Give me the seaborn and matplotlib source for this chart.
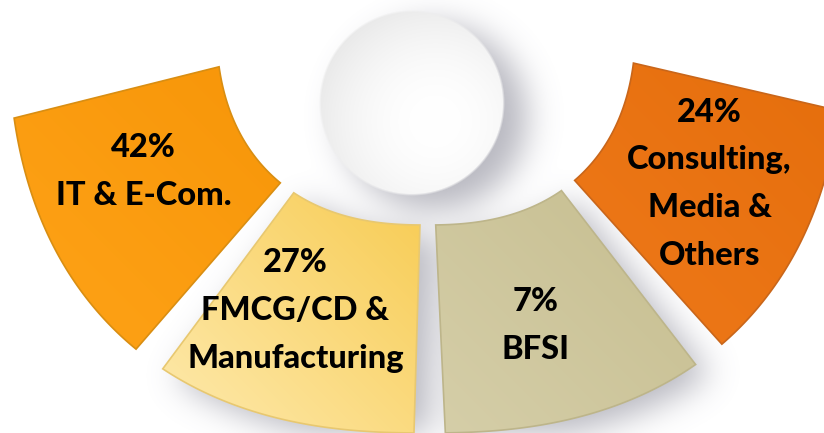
import numpy as np
import matplotlib
matplotlib.use("Agg")
import matplotlib.pyplot as plt
from matplotlib.patches import Polygon
from matplotlib.colors import LinearSegmentedColormap
import seaborn as sns

# segment data, left to right
labels = ["IT & E-Com.", "FMCG/CD &\nManufacturing", "BFSI", "Consulting,\nMedia &\nOthers"]
shares = [42, 27, 7, 24]
dark_colors = ["#F8970A", "#F8CE5A", "#CAC296", "#E66F0D"]
light_colors = ["#FDA014", "#FDE6A2", "#D5CEA8", "#EC7616"]
edge_colors = ["#D98E12", "#E8C870", "#BDB58A", "#C9661A"]

W, H = 824, 433
cx, cy = 426, 15          # ring centre, pixel coords (y down)
R_in, R_out = 210, 418    # radii along the axes (squircle-ish ring)
n_sq = 2.4
step, span, a0 = 39.3, 35.0, 89.5
r_lab = 323
lab_nudge = [2.6, 4.7, 0.7, 0.2]   # degrees
lab_dr = [0, 0, 6, 7]              # pixels

sns.set_theme(style="white")
plt.rcParams["font.family"] = ["Lato", "DejaVu Sans"]

fig = plt.figure(figsize=(W / 100, H / 100), dpi=100)
ax = fig.add_axes([0, 0, 1, 1])
ax.set_xlim(0, W)
ax.set_ylim(H, 0)
ax.axis("off")

yy, xx = np.mgrid[0:H, 0:W] + 0.5


def shape(theta):
    c, s = np.abs(np.cos(theta)), np.abs(np.sin(theta))
    return 1.0 / (c ** n_sq + s ** n_sq) ** (1.0 / n_sq)


def sector_pts(t1, t2, dx=0, dy=0):
    t = np.radians(np.linspace(t1, t2, 80))
    ro, ri = R_out * shape(t), R_in * shape(t)
    outer = np.column_stack([cx + dx + ro * np.cos(t), cy + dy + ro * np.sin(t)])
    inner = np.column_stack([cx + dx + ri * np.cos(t), cy + dy + ri * np.sin(t)])[::-1]
    return np.vstack([outer, inner])


def sector_mask(dx, dy, t1, t2):
    px, py = xx - cx - dx, yy - cy - dy
    th = np.arctan2(py, px)
    r = np.hypot(px, py) / shape(th)
    ang = np.degrees(th) % 360
    return ((r >= R_in) & (r <= R_out) & (ang >= t1) & (ang <= t2)).astype(float)


def blur(img, sigma):
    k = np.arange(-3 * sigma, 3 * sigma + 1)
    g = np.exp(-0.5 * (k / sigma) ** 2)
    g /= g.sum()
    img = np.apply_along_axis(lambda m: np.convolve(m, g, mode="same"), 0, img)
    img = np.apply_along_axis(lambda m: np.convolve(m, g, mode="same"), 1, img)
    return img


mids = [a0 + (1.5 - i) * step for i in range(len(labels))]

# sphere
sx, sy, sr = 412, 103, 93

# soft drop shadow under sphere and the two middle segments
shadow = np.zeros((H, W))
for i in (1, 2):
    shadow = np.maximum(shadow, sector_mask(14, 10, mids[i] - span / 2, mids[i] + span / 2))
shadow = np.maximum(shadow, (np.hypot(xx - sx - 22, yy - sy - 14) <= sr).astype(float))
shadow = blur(shadow, 16)
shadow_rgba = np.zeros((H, W, 4))
shadow_rgba[..., :3] = (0.50, 0.50, 0.56)
shadow_rgba[..., 3] = 0.55 * shadow
ax.imshow(shadow_rgba, extent=(0, W, H, 0), zorder=1, interpolation="bilinear")

# segments with gentle gradient (dark top-right -> light bottom-left)
u = np.array([-0.7071, 0.7071])
proj = xx * u[0] + yy * u[1]
for i, lab in enumerate(labels):
    t1, t2 = mids[i] - span / 2, mids[i] + span / 2
    pts = sector_pts(t1, t2)
    p = pts @ u
    grad = np.clip((proj - p.min()) / (p.max() - p.min()), 0, 1)
    cmap = LinearSegmentedColormap.from_list(
        "seg%d" % i, sns.blend_palette([dark_colors[i], light_colors[i]], 8))
    poly = Polygon(pts, closed=True, facecolor="none",
                   edgecolor=edge_colors[i], lw=1.2, zorder=3)
    ax.add_patch(poly)
    im = ax.imshow(grad, cmap=cmap, vmin=0, vmax=1, extent=(0, W, H, 0),
                   zorder=2, interpolation="bilinear")
    im.set_clip_path(poly)

    a = np.radians(mids[i] + lab_nudge[i])
    lx = cx + (r_lab + lab_dr[i]) * np.cos(a)
    ly = cy + (r_lab + lab_dr[i]) * np.sin(a)
    ax.text(lx, ly, "%d%%\n%s" % (shares[i], lab), ha="center", va="center",
            multialignment="center", fontsize=23.5, fontweight=900,
            color="black", linespacing=1.78, zorder=5)

# white sphere
d = np.hypot(xx - sx, yy - sy) / sr
hl = np.hypot(xx - (sx + 0.25 * sr), yy - (sy + 0.2 * sr)) / sr
shade = 1 - 0.05 * hl ** 2
sphere = np.zeros((H, W, 4))
sphere[..., 0] = shade
sphere[..., 1] = shade
sphere[..., 2] = shade
sphere[..., 3] = np.clip((1 - d) * sr / 2.5, 0, 1)
ax.imshow(sphere, extent=(0, W, H, 0), zorder=4, interpolation="bilinear")

ax.set_xlim(0, W)
ax.set_ylim(H, 0)
fig.savefig("out.png", dpi=100)
